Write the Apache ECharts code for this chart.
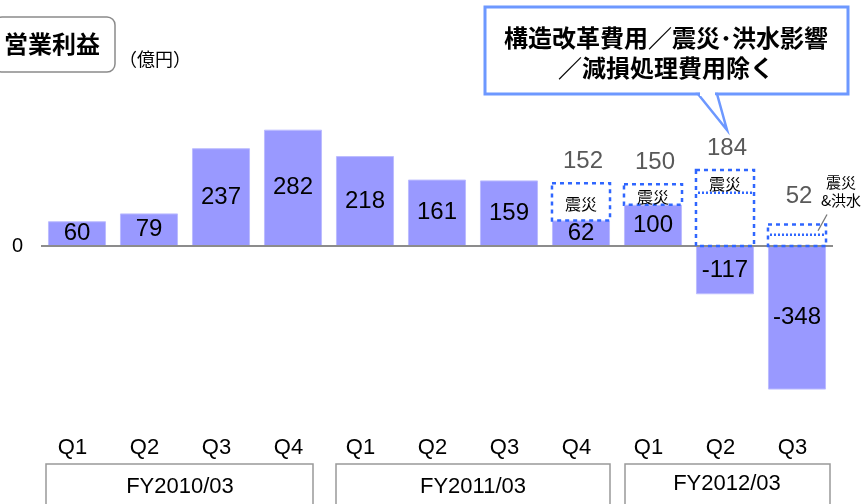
<!DOCTYPE html>
<html>
<head>
<meta charset="utf-8">
<script src="https://cdn.jsdelivr.net/npm/echarts@6/dist/echarts.min.js"></script>
<style>html,body{margin:0;padding:0;background:#fff;}#c{width:865px;height:504px;}</style>
</head>
<body>
<div id="c"></div>
<script>
const categories = ['Q1','Q2','Q3','Q4','Q1','Q2','Q3','Q4','Q1','Q2','Q3'];
const fiscalYears = ['FY2010/03','FY2011/03','FY2012/03'];
const operatingProfit = [60,79,237,282,218,161,159,62,100,-117,-348];
const adjustedProfit = [null,null,null,null,null,null,null,152,150,184,52];
const quakeFloor = [null,null,null,null,null,null,null,null,null,129,27];
const quakeLabels = [null,null,null,null,null,null,null,'震災','震災','震災','震災\n&洪水'];
const yTicks = [-400,0,400];

const LAT = "'Liberation Sans', Arial, sans-serif";
const CJK = "'Noto Sans CJK JP', sans-serif";
const BLUE = '#2f66ff';

const chart = echarts.init(document.getElementById('c'), null, {renderer:'canvas'});

const boxData = [];
adjustedProfit.forEach((v,i)=>{ if(v!==null) boxData.push([i, v]); });

function renderBox(params, api){
  const i = api.value(0);
  const top = api.value(1);
  const base = Math.max(0, operatingProfit[i]);
  const w = api.size([1,0])[0]*0.806;
  const xc = api.coord([i,0])[0];
  const yTop = api.coord([i, top])[1];
  const yBot = api.coord([i, base])[1];
  const x0 = xc - w/2, x1 = xc + w/2;
  const ch = [];
  ch.push({type:'rect', shape:{x:x0, y:yTop, width:w, height:yBot-yTop},
    style:{fill:null, stroke:BLUE, lineWidth:2.5, lineDash:[4,4]}});
  let segBot = yBot;
  const f = quakeFloor[i];
  if (f !== null) {
    const yf = api.coord([i, f])[1];
    segBot = yf;
    ch.push({type:'line', shape:{x1:x0+2, y1:yf, x2:x1-2, y2:yf},
      style:{stroke:BLUE, lineWidth:2.5, lineDash:[2,2]}});
  }
  const small = (segBot - yTop) < 20;
  ch.push({type:'text', style:{x:xc+2, y:yTop-22-(small?6:0), text:String(top), fill:'#595959',
    font:"24px "+LAT, align:'center', verticalAlign:'middle'}});
  const lab = quakeLabels[i];
  if (lab) {
    if (!small) {
      ch.push({type:'text', style:{x:xc, y:(yTop+segBot)/2+2, text:lab, fill:'#000',
        font:"16px "+CJK, align:'center', verticalAlign:'middle'}});
    } else {
      ch.push({type:'text', style:{x:x1+15, y:yTop-33, text:lab, fill:'#000',
        font:"15px "+CJK, align:'center', verticalAlign:'middle', lineHeight:18}});
      ch.push({type:'line', shape:{x1:x1-8, y1:(yTop+segBot)/2+1, x2:x1+1, y2:yTop-10},
        style:{stroke:'#777', lineWidth:1.3}});
    }
  }
  return {type:'group', children:ch};
}

const option = {
  animation:false,
  backgroundColor:'#fff',
  grid:{left:41, right:32, top:81, height:330, containLabel:false},
  xAxis:{type:'category', data:categories,
    axisLine:{show:false}, axisTick:{show:false},
    axisLabel:{margin:26, fontSize:22, color:'#000', fontFamily:LAT, padding:[0,9,0,0]}},
  yAxis:{type:'value', min:yTicks[0], max:yTicks[2], interval:400,
    splitLine:{show:false}, axisLine:{show:false}, axisTick:{show:false},
    axisLabel:{margin:18, fontSize:20, color:'#000', fontFamily:LAT,
      formatter:v=> v===0 ? '0' : ''}},
  series:[
    {type:'bar', data:operatingProfit, barWidth:'80.6%',
      itemStyle:{color:'#9999ff', borderColor:'#bcbcff', borderWidth:1},
      label:{show:true, position:'inside', fontSize:24, color:'#000', fontFamily:LAT},
      markLine:{silent:true, symbol:'none', label:{show:false},
        lineStyle:{color:'#8c8c8c', width:2, type:'solid'}, data:[{yAxis:0}]},
      z:2},
    {type:'custom', renderItem:renderBox, data:boxData, encode:{x:0, y:1}, z:5, silent:true}
  ],
  graphic:[
    {type:'rect', shape:{x:-6, y:17, width:121, height:55, r:8},
      style:{fill:'#fff', stroke:'#8a8a8a', lineWidth:1.5}},
    {type:'text', style:{x:52, y:44, text:'営業利益', font:"bold 24px "+CJK, fill:'#000',
      align:'center', verticalAlign:'middle'}},
    {type:'text', style:{x:155, y:59, text:'（億円）', font:"18px "+CJK, fill:'#000',
      align:'center', verticalAlign:'middle'}},
    {type:'rect', shape:{x:485, y:7, width:363, height:87},
      style:{fill:'#fff', stroke:'#6d98ff', lineWidth:3}},
    {type:'polygon', shape:{points:[[698,94],[727,130],[717,94]]},
      style:{fill:'#fff', stroke:'#6d98ff', lineWidth:2.5}},
    {type:'line', shape:{x1:700, y1:94, x2:715, y2:94}, style:{stroke:'#fff', lineWidth:4}},
    {type:'text', style:{x:666, y:38, text:'構造改革費用／震災･洪水影響', font:"bold 24px "+CJK,
      fill:'#000', align:'center', verticalAlign:'middle'}},
    {type:'text', style:{x:666, y:68, text:'／減損処理費用除く', font:"bold 24px "+CJK,
      fill:'#000', align:'center', verticalAlign:'middle'}},
    {type:'rect', shape:{x:46, y:464, width:267, height:50}, style:{fill:null, stroke:'#999', lineWidth:1.5}},
    {type:'rect', shape:{x:336, y:464, width:274, height:50}, style:{fill:null, stroke:'#999', lineWidth:1.5}},
    {type:'rect', shape:{x:625, y:464, width:205, height:50}, style:{fill:null, stroke:'#999', lineWidth:1.5}},
    {type:'text', style:{x:180, y:487, text:fiscalYears[0], font:"22px "+LAT, fill:'#000', align:'center', verticalAlign:'middle'}},
    {type:'text', style:{x:473, y:487, text:fiscalYears[1], font:"22px "+LAT, fill:'#000', align:'center', verticalAlign:'middle'}},
    {type:'text', style:{x:727, y:484, text:fiscalYears[2], font:"22px "+LAT, fill:'#000', align:'center', verticalAlign:'middle'}}
  ]
};
chart.setOption(option);
</script>
</body>
</html>
